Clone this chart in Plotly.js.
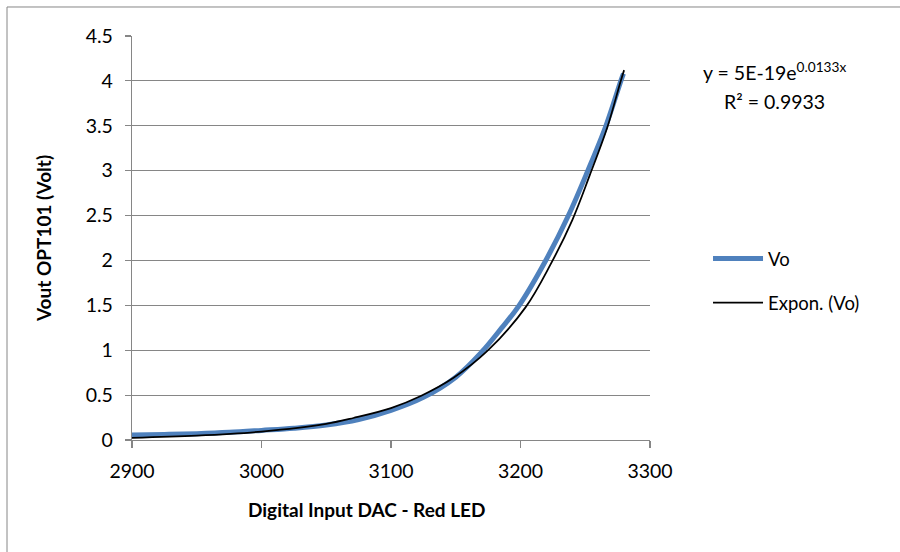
<!DOCTYPE html>
<html>
<head>
<meta charset="utf-8">
<script src="https://cdn.plot.ly/plotly-3.0.1.min.js"></script>
<style>html,body{margin:0;padding:0;background:#fff;}#chart{width:900px;height:552px;}</style>
</head>
<body>
<div id="chart"></div>
<script>
// Measured series "Vo" (DAC code vs OPT101 output voltage)
var voX = [2900, 2925, 2950, 2975, 3000, 3025, 3050, 3075, 3100, 3125, 3150, 3170, 3185, 3199, 3219.5, 3237, 3252, 3266, 3277.5, 3279.5];
var voY = [0.055, 0.062, 0.071, 0.085, 0.107, 0.131, 0.167, 0.228, 0.33, 0.475, 0.70, 0.98, 1.24, 1.5, 2.0, 2.5, 3.0, 3.5, 4.0, 4.08];

// Exponential trendline "Expon. (Vo)"
var trendX = [2900, 2950, 3000, 3050, 3071, 3100, 3123, 3148, 3175, 3204, 3223, 3240, 3253.5, 3267, 3277, 3280];
var trendY = [0.025, 0.049, 0.094, 0.18, 0.245, 0.355, 0.49, 0.69, 1.0, 1.48, 1.95, 2.45, 2.95, 3.48, 3.98, 4.12];

var xTicks = [2900, 3000, 3100, 3200, 3300];
var yTicks = [0, 0.5, 1, 1.5, 2, 2.5, 3, 3.5, 4, 4.5];

var FONT = 'Lato, "Open Sans", sans-serif';
var GRID = '#868686';
var FS = 19.5;

var traces = [
  {
    x: voX, y: voY, type: 'scatter', mode: 'lines', name: 'Vo',
    line: {color: '#4F81BD', width: 5, shape: 'spline', smoothing: 1},
    legend: 'legend'
  },
  {
    x: trendX, y: trendY, type: 'scatter', mode: 'lines', name: 'Expon. (Vo)',
    line: {color: '#000000', width: 1.75, shape: 'spline', smoothing: 1},
    legend: 'legend2'
  }
];

var layout = {
  width: 900, height: 552,
  margin: {l: 132, r: 250, t: 36, b: 112, pad: 0},
  paper_bgcolor: '#ffffff', plot_bgcolor: '#ffffff',
  font: {family: FONT, size: FS, color: '#000000'},
  showlegend: true,
  xaxis: {
    range: [2900, 3300], tickvals: xTicks, ticktext: xTicks.map(String),
    showgrid: false, zeroline: false,
    showline: true, linecolor: GRID, linewidth: 1.2,
    ticks: 'outside', ticklen: 7, tickcolor: GRID, tickwidth: 1.2,
    ticklabelstandoff: 6,
    tickfont: {family: FONT, size: FS, color: '#000'},
    fixedrange: true
  },
  yaxis: {
    range: [0, 4.5], tickvals: yTicks, ticktext: yTicks.map(String),
    showgrid: true, gridcolor: GRID, gridwidth: 1.1, zeroline: false,
    showline: true, linecolor: GRID, linewidth: 1.2,
    ticks: 'outside', ticklen: 6, tickcolor: GRID, tickwidth: 1.2,
    ticklabelstandoff: 8,
    tickfont: {family: FONT, size: FS, color: '#000'},
    title: {text: '<b>Vout OPT101 (Volt)</b>', font: {family: FONT, size: 19, color: '#000'}, standoff: 29},
    fixedrange: true
  },
  legend: {
    x: 1.112, y: 0.448, xanchor: 'left', yanchor: 'middle',
    bgcolor: 'rgba(0,0,0,0)', borderwidth: 0,
    font: {family: FONT, size: 18.5, color: '#000'}, itemwidth: 50
  },
  legend2: {
    x: 1.112, y: 0.339, xanchor: 'left', yanchor: 'middle',
    bgcolor: 'rgba(0,0,0,0)', borderwidth: 0,
    font: {family: FONT, size: 18.5, color: '#000'}, itemwidth: 50
  },
  annotations: [
    {xref: 'paper', yref: 'paper', x: 0.4537, y: -0.173, xanchor: 'center', yanchor: 'middle',
     text: '<b>Digital Input DAC - Red LED</b>', showarrow: false, font: {family: FONT, size: 19, color: '#000'}},
    {xref: 'paper', yref: 'paper', x: 1.241, y: 0.911, xanchor: 'center', yanchor: 'middle',
     text: 'y = 5E-19e<sup>0.0133x</sup>', showarrow: false, font: {family: FONT, size: FS, color: '#000'}},
    {xref: 'paper', yref: 'paper', x: 1.241, y: 0.837, xanchor: 'center', yanchor: 'middle',
     text: 'R² = 0.9933', showarrow: false, font: {family: FONT, size: FS, color: '#000'}}
  ],
  shapes: [
    {type: 'rect', xref: 'paper', yref: 'paper', x0: -0.2413, y0: -1, x1: 2, y1: 1.0718,
     line: {color: '#868686', width: 1}, fillcolor: 'rgba(0,0,0,0)', layer: 'below'}
  ]
};

Plotly.newPlot('chart', traces, layout, {displayModeBar: false, staticPlot: true});
</script>
</body>
</html>
